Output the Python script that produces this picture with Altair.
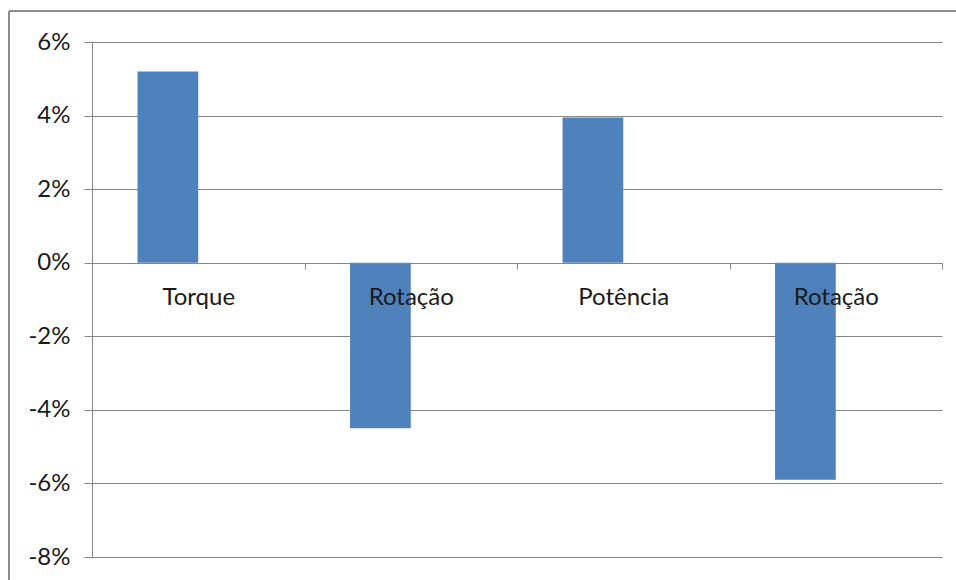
import altair as alt
import pandas as pd

# Percentage variation per quantity
categorias = ["Torque", "Rotação", "Potência", "Rotação"]
variacao = [0.052, -0.045, 0.0395, -0.059]

df = pd.DataFrame({
    "ordem": list(range(len(categorias))),
    "rotulo": categorias,
    "variacao": variacao,
    "serie": ["Série 1"] * len(categorias),
})

label_array = "[" + ",".join("'" + c + "'" for c in categorias) + "]"

GRID = "#868686"
FONT = "Lato"

bars = alt.Chart(df).mark_bar(color="#4F81BD").encode(
    x=alt.X(
        "ordem:O",
        scale=alt.Scale(paddingInner=0, paddingOuter=0),
        axis=alt.Axis(
            title=None,
            labelExpr=f"{label_array}[datum.value]",
            labelAngle=0,
            labelFont=FONT,
            labelFontSize=24,
            labelColor="#1a1a1a",
            labelPadding=16,
            tickBand="extent",
            tickSize=6,
            tickColor=GRID,
            domainColor=GRID,
            grid=False,
            offset=-294,
            zindex=1,
        ),
    ),
    xOffset=alt.XOffset(
        "serie:N",
        scale=alt.Scale(domain=["Série 1", "Série 2"], paddingInner=0, paddingOuter=0.75),
    ),
    y=alt.Y(
        "variacao:Q",
        scale=alt.Scale(domain=[-0.08, 0.06], nice=False, zero=False),
        axis=alt.Axis(
            title=None,
            labelExpr="replace(format(datum.value, '.0%'), '\u2212', '-')",
            values=[-0.08, -0.06, -0.04, -0.02, 0, 0.02, 0.04, 0.06],
            labelFont=FONT,
            labelFontSize=24,
            labelColor="#1a1a1a",
            labelPadding=14,
            tickSize=8,
            tickColor=GRID,
            domainColor=GRID,
            gridColor=GRID,
            gridOpacity=1,
            zindex=0,
        ),
    ),
)

# Outer chart frame (left and top edges)
frame_left = alt.Chart(df).mark_rule(color="#8c8c8c", strokeWidth=2).encode(
    x=alt.value(-83), y=alt.value(-31), y2=alt.value(560)
)
frame_top = alt.Chart(df).mark_rule(color="#8c8c8c", strokeWidth=2).encode(
    x=alt.value(-83), x2=alt.value(880), y=alt.value(-31)
)

chart = alt.layer(bars, frame_left, frame_top).properties(
    width=850,
    height=515,
    padding={"left": 92, "top": 42, "right": 14, "bottom": 23},
    autosize=alt.AutoSizeParams(type="none"),
    background="white",
).configure_view(stroke=None)

chart.save("out.html", embed_options={"renderer": "svg", "actions": False})
